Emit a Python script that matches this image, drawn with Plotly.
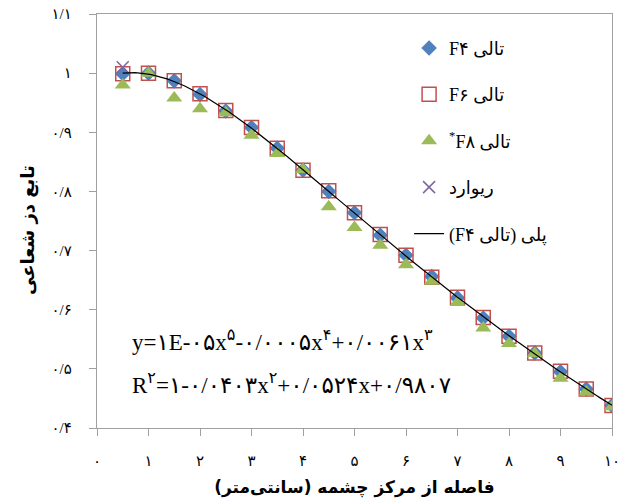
import numpy as np
import plotly.graph_objects as go

# ---- data ----
x_vals = [0.5, 1, 1.5, 2, 2.5, 3, 3.5, 4, 4.5, 5, 5.5, 6, 6.5, 7, 7.5, 8, 8.5, 9, 9.5, 10]
f4 = [0.999, 1.000, 0.987, 0.964, 0.936, 0.908, 0.873, 0.836, 0.800, 0.764,
      0.726, 0.692, 0.656, 0.620, 0.586, 0.555, 0.527, 0.495, 0.466, 0.438]
f6 = [0.999, 1.000, 0.987, 0.965, 0.937, 0.908, 0.873, 0.836, 0.801, 0.764,
      0.727, 0.692, 0.655, 0.621, 0.587, 0.555, 0.527, 0.496, 0.466, 0.438]
f8 = [0.980, 1.000, 0.958, 0.940, 0.933, 0.895, 0.864, 0.837, 0.774, 0.739,
      0.709, 0.676, 0.648, 0.612, 0.569, 0.543, 0.526, 0.484, 0.461, 0.436]
ref_x = [0.5]
ref_y = [1.010]

x_tickvals = [0, 1, 2, 3, 4, 5, 6, 7, 8, 9, 10]
x_ticktext = ["۰", "۱", "۲", "۳", "۴", "۵", "۶", "۷", "۸", "۹", "۱۰"]
y_tickvals = [0.4, 0.5, 0.6, 0.7, 0.8, 0.9, 1.0, 1.1]
y_ticktext = ["۰/۴", "۰/۵", "۰/۶", "۰/۷", "۰/۸", "۰/۹", "۱", "۱/۱"]

names = ["\u202bتالی F۴\u202c", "\u202bتالی F۶\u202c", "\u202bتالی F۸<sup>*</sup>\u202c",
         "ریوارد", "\u202bپلی (تالی F۴)\u202c"]
x_title = "فاصله از مرکز چشمه (سانتی‌متر)"
y_title = "تابع دز شعاعی"
eq1 = "y=۱E-۰۵x<sup>۵</sup>-۰/۰۰۰۵x<sup>۴</sup>+۰/۰۰۶۱x<sup>۳</sup>"
eq2 = "R<sup>۲</sup>=۱-۰/۰۴۰۳x<sup>۲</sup>+۰/۰۵۲۴x+۰/۹۸۰۷"

# 5th-order polynomial trendline fitted to F4
coef = np.polyfit(x_vals, f4, 5)
xs = np.linspace(min(x_vals), max(x_vals), 200)
ys = np.polyval(coef, xs)

serif = "Liberation Serif, DejaVu Serif, DejaVu Sans, serif"
axis_col = "#a0a0a0"

fig = go.Figure()
fig.add_trace(go.Scatter(x=x_vals, y=f4, mode="markers", name=names[0], legendgroup="a",
                         marker=dict(symbol="diamond", size=12, color="#4F81BD")))
fig.add_trace(go.Scatter(x=x_vals, y=f6, mode="markers", name=names[1], legendgroup="b",
                         marker=dict(symbol="square-open", size=14, color="#C0504D",
                                     line=dict(width=1.5))))
fig.add_trace(go.Scatter(x=x_vals, y=f8, mode="markers", name=names[2], legendgroup="c",
                         marker=dict(symbol="triangle-up", size=14, color="#9BBB59")))
fig.add_trace(go.Scatter(x=ref_x, y=ref_y, mode="markers", name=names[3], legendgroup="d",
                         marker=dict(symbol="x-thin-open", size=12, color="#8064A2",
                                     line=dict(width=1.5, color="#8064A2"))))
fig.add_trace(go.Scatter(x=xs, y=ys, mode="lines", name=names[4], legendgroup="e",
                         line=dict(color="black", width=1.2)))

fig.update_layout(
    width=624, height=504,
    margin=dict(l=97, r=12, t=14, b=76),
    paper_bgcolor="white", plot_bgcolor="white",
    font=dict(family=serif, size=15, color="black"),
    showlegend=True,
    legend=dict(x=0.606, y=0.962, xanchor="left", yanchor="top",
                bgcolor="rgba(0,0,0,0)", font=dict(size=18, family=serif),
                traceorder="grouped", tracegroupgap=20),
    xaxis=dict(range=[0, 10], tickvals=x_tickvals, ticktext=x_ticktext, automargin=False,
               showline=True, linecolor=axis_col, linewidth=1.3, mirror=True,
               ticks="outside", ticklen=7, tickcolor=axis_col, tickwidth=1.3,
               showgrid=False, zeroline=False, ticklabelstandoff=12,
               tickfont=dict(size=15),
               title=dict(text="<b>" + x_title + "</b>", font=dict(size=17, family="DejaVu Sans"),
                          standoff=12)),
    yaxis=dict(range=[0.4, 1.1], tickvals=y_tickvals, ticktext=y_ticktext, automargin=False,
               showline=True, linecolor=axis_col, linewidth=1.3, mirror=True,
               ticks="outside", ticklen=7, tickcolor=axis_col, tickwidth=1.3,
               showgrid=False, zeroline=False, ticklabelstandoff=14,
               tickfont=dict(size=15)),
    annotations=[
        dict(text="<b>" + y_title + "</b>", x=-0.134, y=1 - (230 - 14) / 414,
             xref="paper", yref="paper", xanchor="center", yanchor="middle",
             textangle=-90, showarrow=False, font=dict(size=18, family="DejaVu Sans")),
        dict(text=eq1, x=0.064, y=1 - (340 - 14) / 414, xref="paper", yref="paper",
             xanchor="left", yanchor="middle", showarrow=False,
             font=dict(size=23, family=serif)),
        dict(text=eq2, x=0.064, y=1 - (383 - 14) / 414, xref="paper", yref="paper",
             xanchor="left", yanchor="middle", showarrow=False,
             font=dict(size=23, family=serif)),
    ],
)

fig.write_html("out.html", config={"displayModeBar": False},
               post_script="document.body.style.margin='0';document.body.style.overflow='hidden';")
